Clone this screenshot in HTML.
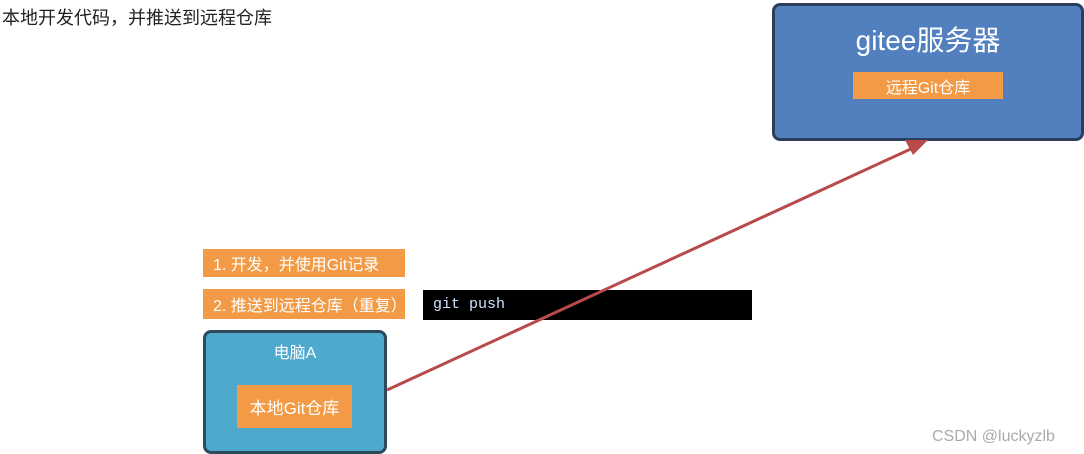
<!DOCTYPE html>
<html><head><meta charset="utf-8"><style>
body{margin:0;width:1084px;height:454px;background:#fff;position:relative;overflow:hidden;font-family:"Liberation Sans","Noto Sans CJK SC",sans-serif}
.a{position:absolute;box-sizing:border-box}
.or{background:#f29a45;color:#fff;display:flex;align-items:center;justify-content:center}
</style></head><body>
<div class="a" style="left:2px;top:4px;font-size:18px;color:#222">本地开发代码，并推送到远程仓库</div>
<div class="a" style="left:772px;top:3px;width:312px;height:138px;background:#5280bf;border:3px solid #2b3e5a;border-radius:8px"></div>
<div class="a" style="left:772px;top:19px;width:312px;text-align:center;color:#fff;font-size:28px">gitee服务器</div>
<div class="a or" style="left:853px;top:72px;width:150px;height:27px;font-size:16px">远程Git仓库</div>
<div class="a or" style="left:203px;top:249px;width:202px;height:28px;font-size:16px;justify-content:flex-start;padding-left:10px">1. 开发，并使用Git记录</div>
<div class="a or" style="left:203px;top:289px;width:202px;height:30px;font-size:16px;justify-content:flex-start;padding-left:10px">2. 推送到远程仓库（重复）</div>
<div class="a" style="left:423px;top:290px;width:329px;height:30px;background:#000;color:#cfe3ff;font-family:'Liberation Mono',monospace;font-size:15px;line-height:30px;padding-left:10px">git push</div>
<div class="a" style="left:203px;top:330px;width:184px;height:124px;background:#4fa9cc;border:3px solid #2d4a5c;border-radius:8px"></div>
<div class="a" style="left:203px;top:339px;width:184px;text-align:center;color:#fff;font-size:16px">电脑A</div>
<div class="a or" style="left:237px;top:385px;width:115px;height:43px;font-size:17px">本地Git仓库</div>
<svg class="a" style="left:0;top:0" width="1084" height="454">
<line x1="387" y1="390" x2="915" y2="147" stroke="#b94a4a" stroke-width="3"/>
<polygon points="928,140 905,140 913,155" fill="#b94a4a"/>
</svg>
<div class="a" style="left:932px;top:428px;font-size:16px;color:#aaa">CSDN @luckyzlb</div>
</body></html>
